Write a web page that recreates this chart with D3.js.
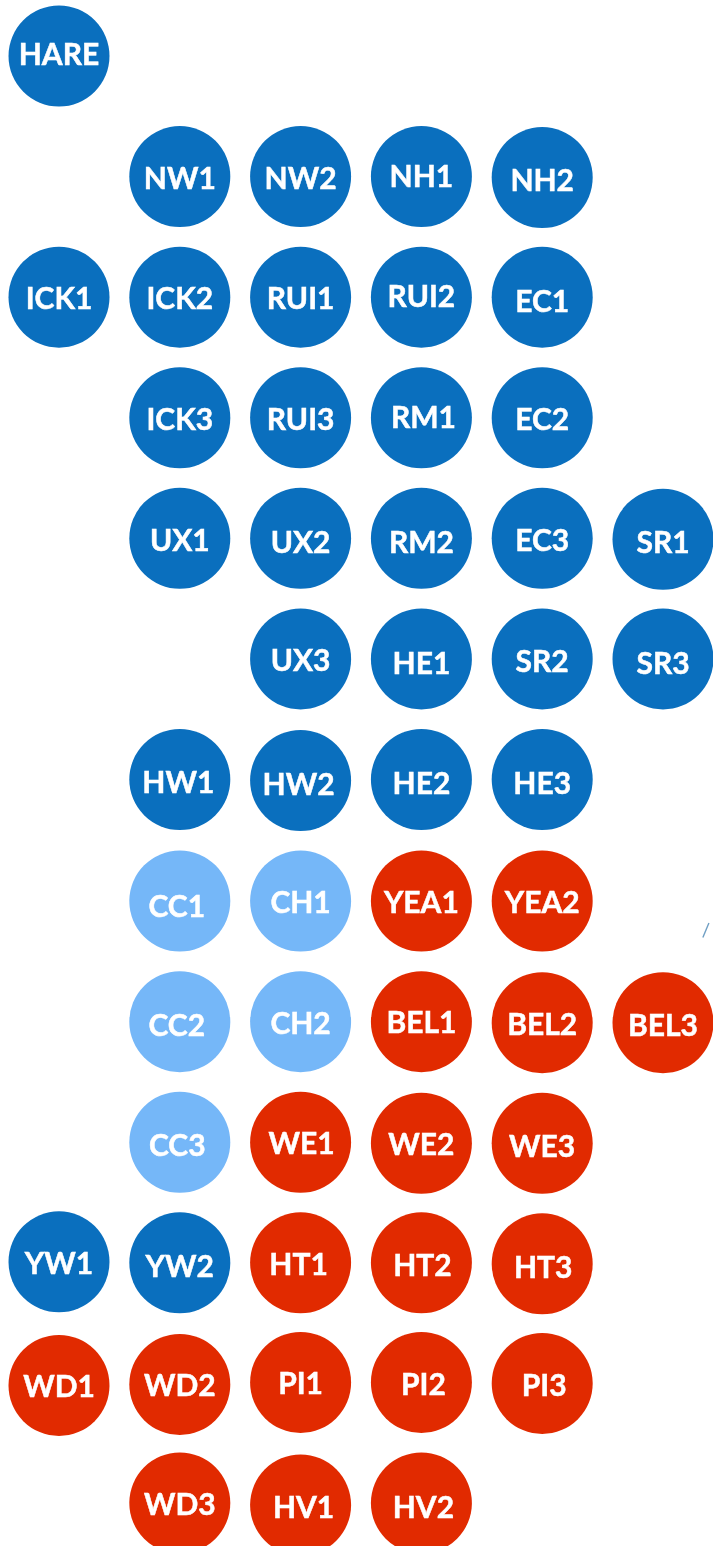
<!DOCTYPE html>
<html>
	<head>
		<meta charset="UTF-8" />
		<title>Circle grid</title>
		<script src="https://cdn.jsdelivr.net/npm/d3@7"></script>
		<style>
			html, body { margin: 0; background: #fff; }
			svg { display: block; filter: blur(0.5px); }
			text { font-family: Lato, sans-serif; font-weight: 700; }
		</style>
	</head>
	<body>
		<svg width="713" height="1546"></svg>
		<script>
			// one list per row, in reading order
			const labels = [
				["HARE"],
				["NW1", "NW2", "NH1", "NH2"],
				["ICK1", "ICK2", "RUI1", "RUI2", "EC1"],
				["ICK3", "RUI3", "RM1", "EC2"],
				["UX1", "UX2", "RM2", "EC3", "SR1"],
				["UX3", "HE1", "SR2", "SR3"],
				["HW1", "HW2", "HE2", "HE3"],
				["CC1", "CH1", "YEA1", "YEA2"],
				["CC2", "CH2", "BEL1", "BEL2", "BEL3"],
				["CC3", "WE1", "WE2", "WE3"],
				["YW1", "YW2", "HT1", "HT2", "HT3"],
				["WD1", "WD2", "PI1", "PI2", "PI3"],
				["WD3", "HV1", "HV2"],
			];
			// column each row starts at
			const rowStart = [0, 1, 0, 1, 1, 2, 1, 1, 1, 1, 0, 0, 1];
			const lightBlue = ["CC1", "CC2", "CC3", "CH1", "CH2"];
			const red = ["YEA1", "YEA2", "BEL1", "BEL2", "BEL3", "WE1", "WE2", "WE3",
				"HT1", "HT2", "HT3", "WD1", "WD2", "WD3", "PI1", "PI2", "PI3", "HV1", "HV2"];
			// stray tick near BEL3, in column/row units
			const strayLine = [[5.33, 7.31], [5.38, 7.19]];

			// the source is hand placed, so circles and labels sit a little off the grid (px)
			const circleShift = {
				NH2: 1, SR1: 1, HW2: 1, CC1: 1, CH1: 1, YEA1: 1, YEA2: 1, CC2: 1, CH2: 1, BEL1: 1,
				BEL2: 2, BEL3: 2, CC3: 1, WE1: 1, WE2: 2, WE3: 2, YW2: 1, HT1: 1, HT2: 1, HT3: 2,
				WD1: 3, WD2: 2, PI3: 1, HV1: 2,
			};
			const labelShiftY = {
				HARE: -3.5, NH1: -1.5, NH2: 2.5, RUI2: -2, EC1: 3, RM1: -2,
				UX1: 1, UX2: 3, RM2: 3, EC3: 1, SR1: 3, HE1: 3, SR2: 1, SR3: 3,
				HW1: 1.5, HW2: 3.5, HE2: 2.5, HE3: 2.5, CC1: 5, CH1: 1, YEA1: 1, YEA2: 1,
				CC2: 3, CH2: 1, BEL2: 2, BEL3: 3, CC3: 3, WE1: 1, WE2: 2, WE3: 4,
				YW2: 3, HT1: 1, HT2: 2, HT3: 4, WD1: 3, WD2: 2, PI2: 1, PI3: 2, HV1: 3, HV2: 3,
			};
			const labelShiftX = {
				CC1: -3, CC2: -3, CC3: -2.5, HT1: -2, HV1: 3, RM1: 2, PI2: 2, PI3: 2, HV2: 2,
				HW2: -2, HW1: -1.5, HT3: 1, HT2: 1, WE1: 1,
			};

			const items = labels.flatMap((row, r) =>
				row.map((name, i) => ({ name, row: r, col: rowStart[r] + i }))
			);

			const svg = d3.select("svg");

			let scaleX = d3.scaleLinear().domain([0, 5]).range([59, 663]);
			let scaleY = d3.scaleLinear().domain([0, 12]).range([56, 1503]);
			let scaleColor = (name) =>
				lightBlue.includes(name) ? "#75b7f8" : red.includes(name) ? "#e12a00" : "#0a6fbe";

			let groups = svg.selectAll("g.node").data(items).enter().append("g").attr("class", "node");

			groups
				.append("circle")
				.attr("cx", (d) => scaleX(d.col))
				.attr("cy", (d) => scaleY(d.row) + (circleShift[d.name] || 0))
				.attr("r", 50.5)
				.attr("fill", (d) => scaleColor(d.name));

			groups
				.append("text")
				.text((d) => d.name)
				.attr("x", (d) => scaleX(d.col) + (labelShiftX[d.name] || 0))
				.attr("y", (d) => scaleY(d.row) + (labelShiftY[d.name] || 0))
				.attr("text-anchor", "middle")
				.attr("dominant-baseline", "central")
				.attr("fill", "#fff")
				.attr("stroke", "#fff")
				.attr("stroke-width", 0.5)
				.style("font-size", "30px");

			let line = d3
				.line()
				.x((d) => scaleX(d[0]))
				.y((d) => scaleY(d[1]));
			svg
				.append("path")
				.datum(strayLine)
				.attr("d", line)
				.attr("fill", "none")
				.attr("stroke", "#6f9fc4")
				.attr("stroke-width", 1.4);
		</script>
	</body>
</html>
